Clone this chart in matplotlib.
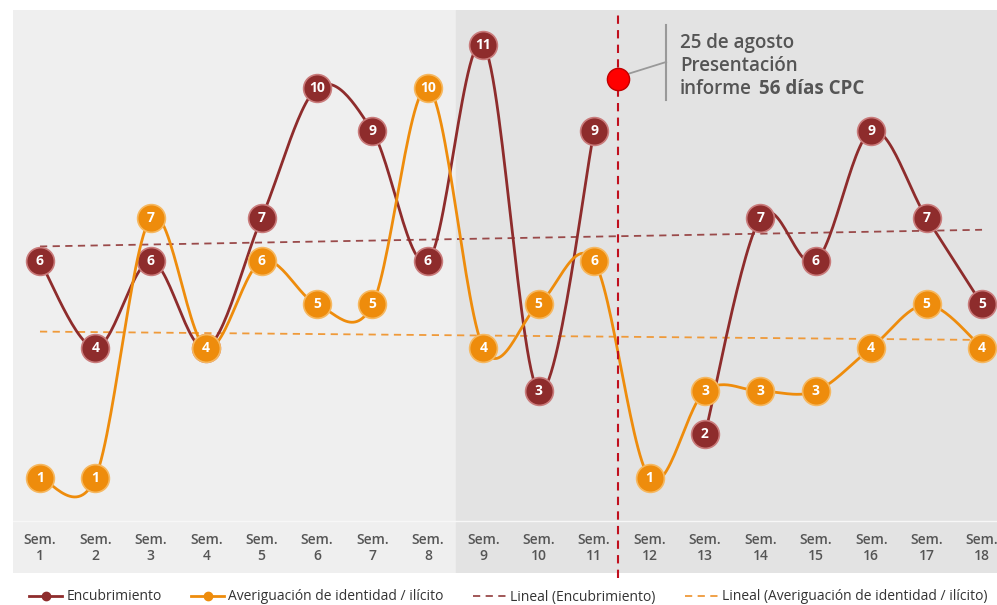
import matplotlib
matplotlib.use("Agg")
import matplotlib.pyplot as plt
from matplotlib.lines import Line2D
import numpy as np

plt.rcParams["font.family"] = ["Open Sans", "DejaVu Sans"]

weeks = list(range(1, 19))
week_labels = [f"Sem.\n{w}" for w in weeks]
encubrimiento = [6, 4, 6, 4, 7, 10, 9, 6, 11, 3, 9, np.nan, 2, 7, 6, 9, 7, 5]
averiguacion = [1, 1, 7, 4, 6, 5, 5, 10, 4, 5, 6, 1, 3, 3, 3, 4, 5, 4]
marker_week = 11.43
marker_value = 10.2

RED = "#8e2c2c"
RED_EDGE = "#c97b7b"
ORANGE = "#ee8c0c"
ORANGE_EDGE = "#f6b860"
TEXT = "#555555"


def smooth(x, y, n=30):
    # Bezier smoothing (Excel-style) through the given points
    x = np.asarray(x, float)
    y = np.asarray(y, float)
    pts = np.column_stack([x, y])
    out = []
    for i in range(len(pts) - 1):
        p0 = pts[max(i - 1, 0)]
        p1 = pts[i]
        p2 = pts[i + 1]
        p3 = pts[min(i + 2, len(pts) - 1)]
        c1 = p1 + (p2 - p0) / 6
        c2 = p2 - (p3 - p1) / 6
        t = np.linspace(0, 1, n)[:, None]
        seg = ((1 - t) ** 3) * p1 + 3 * ((1 - t) ** 2) * t * c1 + 3 * (1 - t) * t ** 2 * c2 + t ** 3 * p2
        out.append(seg if i == 0 else seg[1:])
    seg = np.vstack(out)
    return seg[:, 0], seg[:, 1]


def draw_series(ax, values, color, edge, z):
    x = np.array(weeks, float)
    y = np.array(values, float)
    ok = ~np.isnan(y)
    # split into contiguous runs
    runs, cur = [], []
    for xi, yi, good in zip(x, y, ok):
        if good:
            cur.append((xi, yi))
        elif cur:
            runs.append(cur)
            cur = []
    if cur:
        runs.append(cur)
    for run in runs:
        rx, ry = zip(*run)
        sx, sy = smooth(rx, ry)
        ax.plot(sx, sy, color=color, lw=2.0, zorder=z, solid_capstyle="round")
    ax.plot(x[ok], y[ok], "o", ms=20, color=color, mec=edge, mew=1.2, zorder=z + 0.1)
    for xi, yi in zip(x[ok], y[ok]):
        ax.text(xi, yi, f"{int(yi)}", ha="center", va="center", color="white",
                fontsize=10, fontweight="bold", zorder=z + 0.2)
    # linear trend
    coef = np.polyfit(x[ok], y[ok], 1)
    return np.polyval(coef, [weeks[0], weeks[-1]])


fig = plt.figure(figsize=(9.97, 6.05), dpi=100)
ax = fig.add_axes([13 / 997, 32 / 605, 984 / 997, 563 / 605])
ax.set_xlim(0.513, 18.27)
ax.set_ylim(-1.2, 11.8)
ax.axis("off")

ax.axvspan(0.513, 8.5, color="#efefef", zorder=0)
ax.axvspan(8.5, 18.27, color="#e3e3e3", zorder=0)
ax.axhline(0, color="#f7f7f7", lw=1.0, zorder=0.5)

for w, lab in zip(weeks, week_labels):
    ax.text(w, -0.62, lab, ha="center", va="center", fontsize=10, color=TEXT,
            fontweight="semibold", linespacing=1.25)

red_trend = draw_series(ax, encubrimiento, RED, RED_EDGE, 3)
org_trend = draw_series(ax, averiguacion, ORANGE, ORANGE_EDGE, 4)
ax.plot([weeks[0], weeks[-1]], red_trend, color="#9a4a4a", lw=1.3, ls=(0, (4, 3)), zorder=2)
ax.plot([weeks[0], weeks[-1]], org_trend, color="#ef9a3a", lw=1.3, ls=(0, (4, 3)), zorder=2)

# event marker
ax.plot([marker_week, marker_week], [-1.32, 11.8], color="#c0101e", lw=1.5,
        ls=(0, (4, 3)), zorder=5, clip_on=False)
ax.plot(marker_week, marker_value, "o", ms=16, color="#ff0000", mec="#c00000", mew=1, zorder=6)
ax.plot([marker_week + 0.12, 12.30], [marker_value + 0.1, 10.6], color="#999999", lw=1.3, zorder=5)
ax.plot([12.30, 12.30], [9.72, 11.45], color="#999999", lw=1.5, zorder=5)
ax.text(12.55, 11.04, "25 de agosto", fontsize=13.5, color=TEXT, va="center", fontweight="semibold")
ax.text(12.55, 10.51, "Presentación", fontsize=13.5, color=TEXT, va="center", fontweight="semibold")
ax.text(12.55, 9.98, "informe", fontsize=13.5, color=TEXT, va="center", fontweight="semibold")
ax.text(13.97, 9.98, "56 días CPC", fontsize=13.5, color=TEXT, va="center", fontweight="bold")

handles = [
    Line2D([], [], color=RED, lw=2, marker="o", ms=6),
    Line2D([], [], color=ORANGE, lw=2, marker="o", ms=6),
    Line2D([], [], color="#9a4a4a", lw=1.3, ls=(0, (4, 3))),
    Line2D([], [], color="#ef9a3a", lw=1.3, ls=(0, (4, 3))),
]
labels = ["Encubrimiento", "Averiguación de identidad / ilícito",
          "Lineal (Encubrimiento)", "Lineal (Averiguación de identidad / ilícito)"]
fig.legend(handles, labels, loc="center", bbox_to_anchor=(0.51, 8 / 605), ncol=4,
           frameon=False, fontsize=10, handlelength=2.4, handletextpad=0.3,
           columnspacing=2.1, labelcolor="#333333")

fig.savefig("out.png", dpi=100)
